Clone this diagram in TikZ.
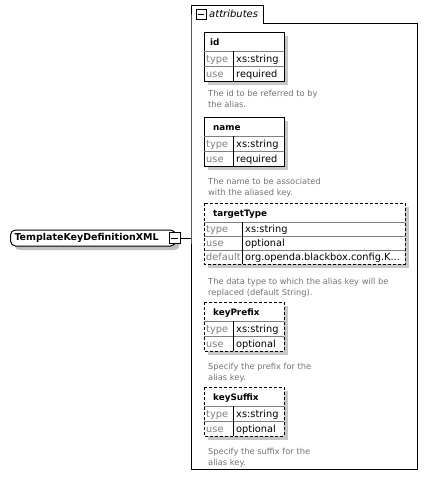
\documentclass[tikz,border=0pt]{standalone}
\usepackage{fontspec}
\setmainfont{DejaVu Sans}
\usetikzlibrary{shadows}

\tikzset{
  frame/.style={draw=black,line width=1pt},
  boxshadow/.style={fill=black!22},
  rowline/.style={draw=black!50,line width=0.8pt},
  optional/.style={dash pattern=on 3pt off 2pt},
  ttl/.style={font=\fontsize{8.8}{10}\selectfont\bfseries,anchor=base west,inner sep=0pt},
  lbl/.style={font=\fontsize{9.8}{11}\selectfont,text=black!50,anchor=base west,inner sep=0pt},
  val/.style={font=\fontsize{9.8}{11}\selectfont,anchor=base west,inner sep=0pt},
  desc/.style={font=\fontsize{8.3}{11}\selectfont,text=black!55,anchor=north west,align=left,inner sep=0pt},
  minusbox/.style={draw,fill=white,line width=1pt,minimum size=#1,inner sep=0pt,
    path picture={\draw[line width=1pt] ([xshift=2pt]path picture bounding box.west) -- ([xshift=-2pt]path picture bounding box.east);}},
  elembox/.style={draw,fill=white,line width=1pt,rounded corners=5pt,anchor=west,
    minimum height=16pt,text width=157pt,inner xsep=4pt,inner ysep=0pt,align=left,
    font=\fontsize{9.5}{11}\selectfont\bfseries,
    drop shadow={shadow xshift=4pt,shadow yshift=-4pt,fill=black!25,opacity=1}},
}

\begin{document}
\begin{tikzpicture}[x=1pt,y=-1pt]
  \useasboundingbox (0,0) rectangle (428,477);
  % element with its collapse box
  \node[elembox] (elem) at (10,238) {TemplateKeyDefinitionXML};
  \node[minusbox=11pt] (elemminus) at (174.5,238) {};
  % attributes group
  \draw[frame] (191,23) -- (191,5) -- (263,5) -- (263,23) -- (417,23) -- (417,469) -- (191,469) -- cycle;
  \node[minusbox=10pt] (grpminus) at (201,14) {};
  \node[font=\fontsize{10}{12}\selectfont\itshape,anchor=base west,inner sep=0pt] (grpttl) at (209,17.5) {attributes};
  \coordinate (grp) at (191,238);
  \draw[line width=1pt] (elemminus.east) -- (grp);
  % id
  \begin{scope}[shift={(204,32)}]
    \fill[boxshadow] (4,4) rectangle (84,53);
    \filldraw[frame,fill=white] (0,0) rectangle (80,49);
    \draw[rowline] (0,19) -- (80,19) (0,34) -- (80,34);
    \draw[line width=0.8pt] (29,19) -- (29,49);
    \node[ttl] (idttl) at (6,13) {id};
    \node[lbl] (idtype) at (2,30) {type};
    \node[val] (idtypev) at (32,30) {xs:string};
    \node[lbl] (iduse) at (2,45) {use};
    \node[val] (idusev) at (32,45) {required};
    \node[desc] (iddesc) at (4,57.7) {The id to be referred to by\\the alias.};
  \end{scope}
  % name
  \begin{scope}[shift={(204,117)}]
    \fill[boxshadow] (4,4) rectangle (84,53);
    \filldraw[frame,fill=white] (0,0) rectangle (80,49);
    \draw[rowline] (0,19) -- (80,19) (0,34) -- (80,34);
    \draw[line width=0.8pt] (29,19) -- (29,49);
    \node[ttl] (namettl) at (9,13) {name};
    \node[lbl] (nametype) at (2,30) {type};
    \node[val] (nametypev) at (32,30) {xs:string};
    \node[lbl] (nameuse) at (2,45) {use};
    \node[val] (nameusev) at (32,45) {required};
    \node[desc] (namedesc) at (4,60.7) {The name to be associated\\with the aliased key.};
  \end{scope}
  % targetType
  \begin{scope}[shift={(204,203)}]
    \fill[boxshadow] (4,4) rectangle (205,65);
    \fill[white] (0,0) rectangle (201,61);
    \draw[rowline] (0,19) -- (201,19) (0,33) -- (201,33) (0,47) -- (201,47);
    \draw[line width=0.8pt] (38,19) -- (38,61);
    \draw[frame,optional] (0,0) rectangle (201,61);
    \node[ttl] (tgtttl) at (9,13) {targetType};
    \node[lbl] (tgttype) at (2,29.5) {type};
    \node[val] (tgttypev) at (41,29.5) {xs:string};
    \node[lbl] (tgtuse) at (2,43.5) {use};
    \node[val] (tgtusev) at (41,43.5) {optional};
    \node[lbl] (tgtdef) at (2,57.5) {default};
    \node[val] (tgtdefv) at (41,57.5) {org.openda.blackbox.config.K...};
    \node[desc] (tgtdesc) at (4,74.7) {The data type to which the alias key will be\\replaced (default String).};
  \end{scope}
  % keyPrefix
  \begin{scope}[shift={(204,302)}]
    \fill[boxshadow] (4,4) rectangle (84,53);
    \fill[white] (0,0) rectangle (80,49);
    \draw[rowline] (0,19) -- (80,19) (0,34) -- (80,34);
    \draw[line width=0.8pt] (29,19) -- (29,49);
    \draw[frame,optional] (0,0) rectangle (80,49);
    \node[ttl] (prettl) at (9,13) {keyPrefix};
    \node[lbl] (pretype) at (2,30) {type};
    \node[val] (pretypev) at (32,30) {xs:string};
    \node[lbl] (preuse) at (2,45) {use};
    \node[val] (preusev) at (32,45) {optional};
    \node[desc] (predesc) at (4,60.7) {Specify the prefix for the\\alias key.};
  \end{scope}
  % keySuffix
  \begin{scope}[shift={(204,387)}]
    \fill[boxshadow] (4,4) rectangle (84,53);
    \fill[white] (0,0) rectangle (80,49);
    \draw[rowline] (0,19) -- (80,19) (0,34) -- (80,34);
    \draw[line width=0.8pt] (29,19) -- (29,49);
    \draw[frame,optional] (0,0) rectangle (80,49);
    \node[ttl] (sufttl) at (9,13) {keySuffix};
    \node[lbl] (suftype) at (2,30) {type};
    \node[val] (suftypev) at (32,30) {xs:string};
    \node[lbl] (sufuse) at (2,45) {use};
    \node[val] (sufusev) at (32,45) {optional};
    \node[desc] (sufdesc) at (4,60.7) {Specify the suffix for the\\alias key.};
  \end{scope}
\end{tikzpicture}
\end{document}
